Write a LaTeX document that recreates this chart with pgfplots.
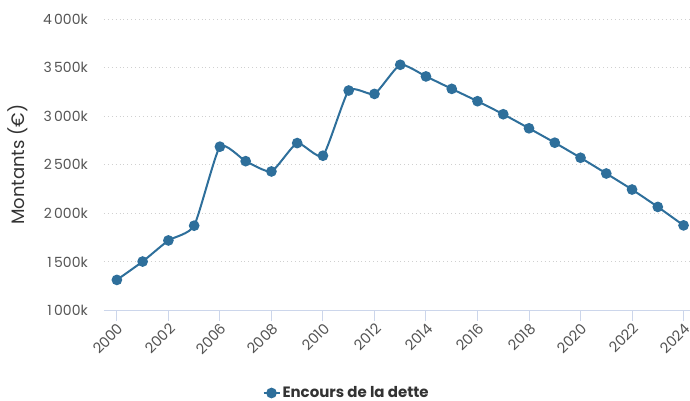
\documentclass[border=0pt]{standalone}
\usepackage{pgfplots}
\pgfplotsset{compat=1.18}
\usepackage{fontspec}
\setmainfont{Poppins}
\definecolor{lineblue}{HTML}{2E6F9B}
\definecolor{axisblue}{HTML}{CCD6EB}
\definecolor{gridgray}{HTML}{D0D0D0}
\definecolor{labgray}{HTML}{555555}
\definecolor{leggray}{HTML}{333333}
\begin{document}
\begin{tikzpicture}
\begin{axis}[
  scale only axis,
  width=586pt, height=291.5pt,
  xmin=-0.5, xmax=22.25,
  ymin=1000, ymax=4000,
  axis x line*=bottom, axis y line*=left,
  x axis line style={draw=axisblue, line width=1pt, -},
  y axis line style={draw=none},
  xtick={0,2,...,22},
  xticklabels={2000,2002,2006,2008,2010,2012,2014,2016,2018,2020,2022,2024},
  ytick={1000,1500,...,4000},
  yticklabels={1\,000k,1\,500k,2\,000k,2\,500k,3\,000k,3\,500k,4\,000k},
  tick align=outside,
  major tick length=10pt,
  xtick style={draw=axisblue, line width=1pt},
  ytick style={draw=none},
  ymajorgrids,
  major grid style={draw=gridgray, line width=0.9pt, dash pattern=on 0.9pt off 3pt},
  yticklabel style={anchor=east, inner sep=0pt, xshift=-6pt, text=labgray, font=\fontsize{14}{16}\selectfont},
  xticklabel style={rotate=45, anchor=north east, inner sep=1pt, text=labgray, font=\fontsize{14.5}{16}\selectfont},
  ylabel={Montants (€)},
  ylabel style={at={(axis description cs:-0.147,0.5)}, anchor=center, text=leggray, font=\fontsize{18}{21}\selectfont},
  legend style={at={(axis description cs:0.414,-0.283)}, anchor=center, draw=none, fill=none,
    font=\bfseries\fontsize{15}{18}\selectfont, text=leggray, inner sep=0pt},
  legend image code/.code={\draw[#1, mark repeat=2, mark phase=2] plot coordinates {(0pt,0pt) (8pt,0pt) (16pt,0pt)};},
  clip=false,
]
\addplot[color=lineblue, line width=2pt, smooth, tension=0.32, mark=*, mark size=4.3pt, mark options={solid, fill=lineblue, draw=none}]
coordinates {
(0,1315) (1,1504) (2,1721) (3,1873) (4,2686) (5,2537) (6,2431) (7,2723)
(8,2593) (9,3264) (10,3229) (11,3529) (12,3409) (13,3281) (14,3154) (15,3020)
(16,2875) (17,2727) (18,2572) (19,2410) (20,2245) (21,2066) (22,1876)
};
\addlegendentry{Encours de la dette}
\end{axis}
\pgfresetboundingbox
\useasboundingbox (-104pt,-89.5pt) rectangle (586pt,310.5pt);
\end{tikzpicture}
\end{document}
